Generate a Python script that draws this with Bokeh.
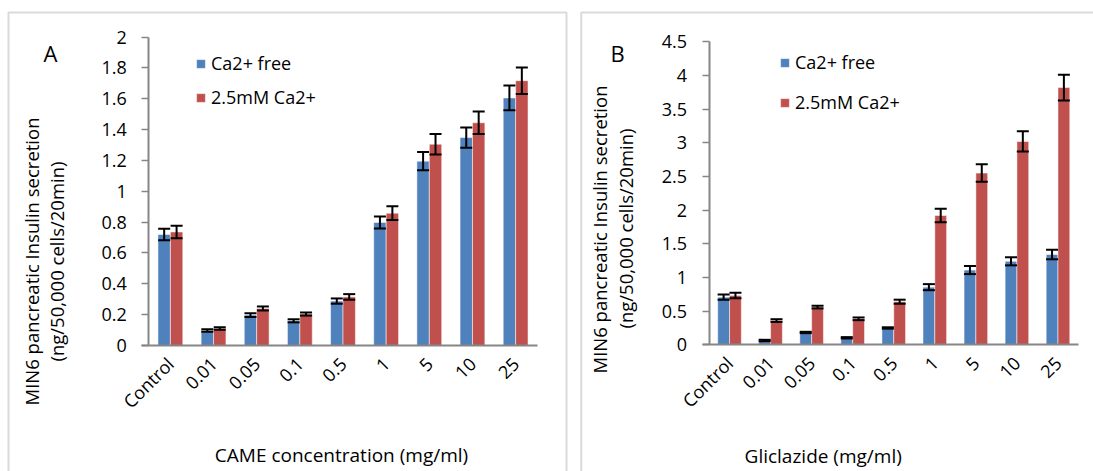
import math
from bokeh.plotting import figure
from bokeh.layouts import row
from bokeh.models import (ColumnDataSource, Range1d, FixedTicker, Whisker, TeeHead,
                          Legend, LegendItem, Label, BoxAnnotation)
from bokeh.embed import file_html
from bokeh.resources import INLINE

categories = ["Control", "0.01", "0.05", "0.1", "0.5", "1", "5", "10", "25"]

# Panel A: CAME
came_free = [0.72, 0.097, 0.197, 0.16, 0.288, 0.798, 1.195, 1.348, 1.605]
came_free_err = [0.037, 0.008, 0.012, 0.01, 0.017, 0.039, 0.059, 0.066, 0.08]
came_ca = [0.736, 0.11, 0.24, 0.204, 0.315, 0.858, 1.305, 1.444, 1.717]
came_ca_err = [0.04, 0.008, 0.013, 0.01, 0.018, 0.045, 0.066, 0.073, 0.086]
yticks_A = [0, 0.2, 0.4, 0.6, 0.8, 1.0, 1.2, 1.4, 1.6, 1.8, 2.0]
ylabels_A = ["0", "0.2", "0.4", "0.6", "0.8", "1", "1.2", "1.4", "1.6", "1.8", "2"]

# Panel B: Gliclazide
glic_free = [0.708, 0.064, 0.183, 0.104, 0.25, 0.856, 1.11, 1.24, 1.34]
glic_free_err = [0.04, 0.01, 0.01, 0.01, 0.01, 0.045, 0.06, 0.06, 0.07]
glic_ca = [0.733, 0.36, 0.56, 0.386, 0.64, 1.92, 2.55, 3.02, 3.82]
glic_ca_err = [0.04, 0.02, 0.02, 0.02, 0.03, 0.1, 0.13, 0.15, 0.19]
yticks_B = [0, 0.5, 1.0, 1.5, 2.0, 2.5, 3.0, 3.5, 4.0, 4.5]
ylabels_B = ["0", "0.5", "1", "1.5", "2", "2.5", "3", "3.5", "4", "4.5"]

series_names = ["Ca2+ free", "2.5mM Ca2+"]
ytitle = ["MIN6 pancreatic Insulin secretion", "(ng/50,000 cells/20min)"]

BLUE = "#4F81BD"
RED = "#C0504D"
GRAY = "#868686"
FONT = "Open Sans"
TXT = "#000000"
H = 471


def make_panel(width, ax_l, ax_r, ax_top, ax_zero, ymax, yticks, ylabels,
               free, free_err, ca, ca_err, letter, xtitle, pos):
    n = len(categories)
    kx = n / (ax_r - ax_l)
    ky = ymax / (ax_zero - ax_top)
    p = figure(width=width, height=H,
               x_range=Range1d(-ax_l * kx, (width - ax_l) * kx),
               y_range=Range1d(-(H - ax_zero) * ky, ax_zero * ky),
               output_backend="svg", toolbar_location=None,
               min_border_left=0, min_border_right=0, min_border_top=0, min_border_bottom=0)
    p.outline_line_color = None
    p.grid.visible = False
    p.background_fill_color = "white"
    p.border_fill_color = "white"

    xc = [i + 0.5 for i in range(n)]
    off = 0.144
    bw = 0.287
    src = ColumnDataSource(dict(
        xf=[x - off for x in xc], xr=[x + off for x in xc], free=free, ca=ca,
        free_lo=[v - e for v, e in zip(free, free_err)],
        free_hi=[v + e for v, e in zip(free, free_err)],
        ca_lo=[v - e for v, e in zip(ca, ca_err)],
        ca_hi=[v + e for v, e in zip(ca, ca_err)]))
    r1 = p.vbar(x="xf", top="free", width=bw, source=src,
                fill_color=BLUE, line_color="white", line_alpha=0.5, line_width=1)
    r2 = p.vbar(x="xr", top="ca", width=bw, source=src,
                fill_color=RED, line_color="white", line_alpha=0.5, line_width=1)
    for base, lo, hi in (("xf", "free_lo", "free_hi"), ("xr", "ca_lo", "ca_hi")):
        p.add_layout(Whisker(base=base, lower=lo, upper=hi, source=src, level="annotation",
                             line_color="black", line_width=2,
                             upper_head=TeeHead(size=12, line_width=2, line_color="black"),
                             lower_head=TeeHead(size=12, line_width=2, line_color="black")))

    # axes placed at fixed locations inside the full-canvas frame
    p.yaxis.fixed_location = 0
    p.yaxis.bounds = (0, ymax)
    p.yaxis.ticker = FixedTicker(ticks=yticks)
    p.yaxis.major_label_overrides = dict(zip(yticks, ylabels))
    p.yaxis.minor_tick_line_color = None
    p.yaxis.major_tick_in = 0
    p.yaxis.major_tick_out = 7
    p.yaxis.major_label_standoff = 15
    p.xaxis.fixed_location = 0
    p.xaxis.bounds = (-7 * kx, n)
    p.xaxis.ticker = FixedTicker(ticks=xc)
    p.xaxis.major_label_overrides = dict(zip(xc, categories))
    for ax in (p.xaxis, p.yaxis):
        ax.axis_line_color = GRAY
        ax.axis_line_width = 2
        ax.major_tick_line_color = GRAY
        ax.major_tick_line_width = 1.5
        ax.major_label_text_font = FONT
        ax.major_label_text_font_size = "18px"
        ax.major_label_text_color = TXT
    p.xaxis.major_tick_line_color = None
    p.xaxis.minor_tick_line_color = None
    p.xaxis.major_tick_in = 0
    p.xaxis.major_tick_out = 0
    p.xaxis.major_label_orientation = math.pi / 4
    p.xaxis.major_label_standoff = 15

    legend = Legend(items=[LegendItem(label=series_names[0], renderers=[r1]),
                           LegendItem(label=series_names[1], renderers=[r2])],
                    location=pos["legend"], orientation="vertical",
                    glyph_width=11, glyph_height=11, label_standoff=5,
                    label_text_font=FONT, label_text_font_size="18px", label_text_color=TXT,
                    label_height=20, spacing=pos["spacing"], padding=0, margin=0,
                    border_line_color=None, background_fill_alpha=0)
    p.add_layout(legend)

    def lab(xy, text, size, angle=0.0):
        p.add_layout(Label(x=xy[0], y=H - xy[1], x_units="screen", y_units="screen",
                           text=text, angle=angle,
                           text_align="center", text_baseline="middle",
                           text_font=FONT, text_font_size=size, text_color=TXT))

    lab(pos["y1"], ytitle[0], "18.5px", math.pi / 2)
    lab(pos["y2"], ytitle[1], "18.5px", math.pi / 2)
    lab(pos["xt"], xtitle, "19px")
    lab(pos["letter"], letter, "22px")

    p.add_layout(BoxAnnotation(left=pos["box"][0], right=pos["box"][1], top=H - 12, bottom=-20,
                               left_units="screen", right_units="screen",
                               top_units="screen", bottom_units="screen",
                               fill_alpha=0, line_color=GRAY, line_width=2))
    return p


# positions below are canvas pixels (x from left, y from top) within each figure
pA = make_panel(574, 148.3, 536.7, 36.5, 345, 2.0, yticks_A, ylabels_A,
                came_free, came_free_err, came_ca, came_ca_err, "A",
                "CAME concentration (mg/ml)",
                dict(legend=(195, 362), spacing=10, y1=(31, 261), y2=(56, 261),
                     xt=(341, 454), letter=(50, 52.5), box=(8, 566)))
pB = make_panel(519, 134.5, 504, 41.3, 344.3, 4.5, yticks_B, ylabels_B,
                glic_free, glic_free_err, glic_ca, glic_ca_err, "B",
                "Gliclazide (mg/ml)",
                dict(legend=(205, 357), spacing=16, y1=(24.5, 229), y2=(51, 228),
                     xt=(248.7, 455), letter=(43, 52.5), box=(6.7, 540)))

layout = row(pA, pB, spacing=0)
open("out.html", "w").write(file_html(layout, INLINE))
